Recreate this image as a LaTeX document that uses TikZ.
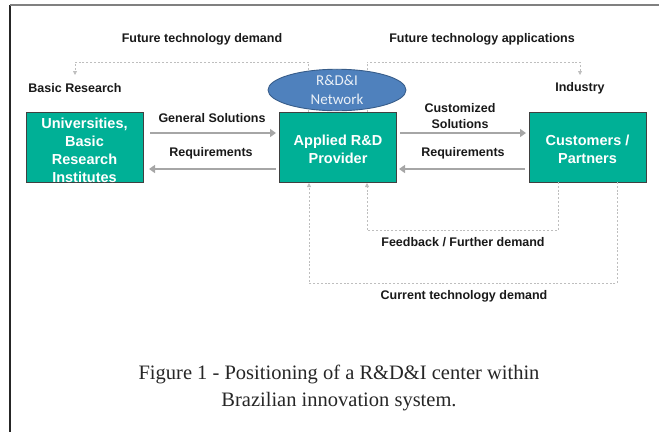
\documentclass[tikz,border=0pt]{standalone}
\usepackage{fontspec}
\setmainfont{Liberation Serif}
\newfontfamily\arialfont{Liberation Sans}
\newfontfamily\calfont{Carlito}
\usetikzlibrary{arrows.meta,shapes.geometric}
\definecolor{boxteal}{RGB}{0,176,150}
\definecolor{boxedge}{RGB}{64,64,64}
\definecolor{netfill}{RGB}{79,129,189}
\definecolor{netedge}{RGB}{56,93,138}
\definecolor{flowgray}{RGB}{166,166,166}
\definecolor{dashgray}{RGB}{190,190,190}
\tikzset{
  actor/.style={draw=boxedge, line width=0.9pt, fill=boxteal, minimum width=117pt,
    minimum height=70pt, inner sep=0pt, align=center, text=white,
    font=\arialfont\bfseries\fontsize{14.5}{18}\selectfont},
  lbl/.style={font=\arialfont\bfseries\fontsize{12.5}{16}\selectfont, text=black!90, align=center, inner sep=0pt},
  flow/.style={draw=flowgray, line width=2.2pt, -{Triangle[length=6pt,width=8pt]}},
  loop/.style={draw=dashgray, line width=0.8pt, dash pattern=on 2pt off 1.8pt,
    -{Triangle[length=4pt,width=4pt]}},
  frameline/.style={line width=1.6pt}
}
\begin{document}
\begin{tikzpicture}[x=1pt,y=-1pt]
\useasboundingbox (0,0) rectangle (659,432);
% page frame
\draw[frameline, draw=black!85] (10,5) -- (10,432);
\draw[frameline, draw=black!50] (10,5) -- (659,5);

% actors
\node[actor] (uni) at (84.5,147) {};
\node[align=center, text=white, font=\arialfont\bfseries\fontsize{14.5}{18}\selectfont,
  inner sep=0pt] (unitxt) at (84.5,150) {Universities,\\Basic\\Research\\Institutes};
\node[actor] (app) at (338,147) {};
\node[align=center, text=white, font=\arialfont\bfseries\fontsize{14.5}{18}\selectfont,
  inner sep=0pt] (apptxt) at (338,149) {Applied R\&D\\Provider};
\node[actor] (cus) at (587.5,147) {};
\node[align=center, text=white, font=\arialfont\bfseries\fontsize{14.5}{18}\selectfont,
  inner sep=0pt] (custxt) at (587.5,149) {Customers /\\Partners};

% upper feedback coordinates
\coordinate (appL) at (308,112);
\coordinate (appR) at (367,112);
\coordinate (topL) at (308,62);
\coordinate (topR) at (367,62);
\coordinate (brTop) at (75,62);
\coordinate (brEnd) at (75,75);
\coordinate (inTop) at (580,62);
\coordinate (inEnd) at (580,75);

\node[lbl] (basic) at (75,88) {Basic Research};
\node[lbl] (ind) at (580,88) {Industry};
\node[lbl] (ftd) at (202,39) {Future technology demand};
\node[lbl] (fta) at (482,39) {Future technology applications};

\draw[loop] (appL) -- (topL) -- (brTop) -- (brEnd);
\draw[loop] (appR) -- (topR) -- (inTop) -- (inEnd);

% network ellipse over the dashed lines
\node[ellipse, draw=netedge, line width=0.9pt, fill=netfill, minimum width=138pt,
  minimum height=40pt, inner sep=0pt, align=center, text=white!88!netfill,
  font=\calfont\fontsize{15}{19}\selectfont] (net) at (337,90) {R\&D\&I\\Network};

% main flows
\coordinate (gsA) at (150,133);
\coordinate (gsB) at (276,133);
\coordinate (rqA) at (276,169);
\coordinate (rqB) at (149,169);
\coordinate (csA) at (400,133);
\coordinate (csB) at (526,133);
\coordinate (rrA) at (525,169);
\coordinate (rrB) at (399,169);
\draw[flow] (gsA) -- (gsB);
\draw[flow] (rqA) -- (rqB);
\draw[flow] (csA) -- (csB);
\draw[flow] (rrA) -- (rrB);
\node[lbl] (gs) at (212,118) {General Solutions};
\node[lbl] (rq1) at (211,153) {Requirements};
\node[lbl] (cs) at (460,116) {Customized\\Solutions};
\node[lbl] (rq2) at (463,153) {Requirements};

% lower feedback loops
\coordinate (cusA) at (558,182);
\coordinate (cusB) at (617,182);
\coordinate (fbR) at (558,230);
\coordinate (fbL) at (367,230);
\coordinate (ctR) at (617,283);
\coordinate (ctL) at (309,283);
\coordinate (appB1) at (367,183);
\coordinate (appB2) at (309,183);
\draw[loop] (cusA) -- (fbR) -- (fbL) -- (appB1);
\draw[loop] (cusB) -- (ctR) -- (ctL) -- (appB2);
\node[lbl] (fb) at (463,242) {Feedback / Further demand};
\node[lbl] (ct) at (464,296) {Current technology demand};

% caption
\node[font=\fontsize{20.5}{27}\selectfont, align=center, text=black!85] (cap) at (339,388)
  {Figure 1 - Positioning of a R\&D\&I center within\\Brazilian innovation system.};
\end{tikzpicture}
\end{document}
